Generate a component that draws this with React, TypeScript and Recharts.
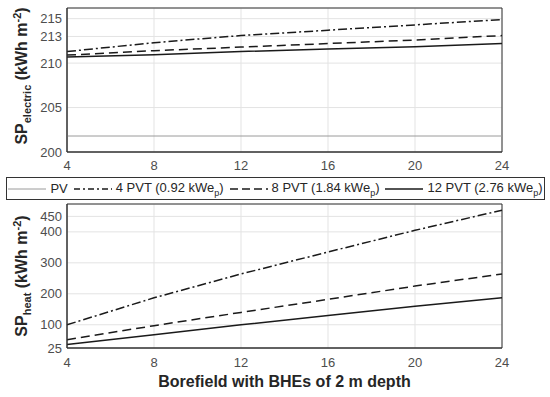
import React from "react";
import { LineChart, Line, XAxis, YAxis, CartesianGrid, ReferenceArea } from "recharts";

const boreholes = [4, 8, 12, 16, 20, 24];
const xTicks = [4, 8, 12, 16, 20, 24];

// SP electric (kWh m-2)
const pvElectric = [201.8, 201.8, 201.8, 201.8, 201.8, 201.8];
const pvt4Electric = [211.3, 212.3, 213.1, 213.7, 214.3, 214.9];
const pvt8Electric = [210.9, 211.4, 211.8, 212.2, 212.6, 213.1];
const pvt12Electric = [210.7, 210.95, 211.3, 211.6, 211.85, 212.2];
const electricTicks = [200, 205, 210, 213, 215];
const electricDomain = [200, 216.2];

// SP heat (kWh m-2)
const pvt4Heat = [100, 187, 264, 335, 405, 470];
const pvt8Heat = [52, 97, 140, 182, 225, 264];
const pvt12Heat = [36, 68, 100, 130, 160, 187];
const heatTicks = [25, 100, 200, 300, 400, 450];
const heatDomain = [25, 490];

const electricData = boreholes.map((b, i) => ({
  b,
  pv: pvElectric[i],
  pvt4: pvt4Electric[i],
  pvt8: pvt8Electric[i],
  pvt12: pvt12Electric[i],
}));

const heatData = boreholes.map((b, i) => ({
  b,
  pvt4: pvt4Heat[i],
  pvt8: pvt8Heat[i],
  pvt12: pvt12Heat[i],
}));

const FONT = "Arial, 'Liberation Sans', sans-serif";
const TEXT = "#262626";
const TICK = "#4d4d4d";
const BOX = "#333333";
const GRID = "#e3e3e3";
const LINE = "#1a1a1a";

const DASHDOT = "9 3 2 3";
const DASHED = "9 5";

const tickStyle = { fontSize: 13, fill: TICK, fontFamily: FONT };

// rotated y axis title, centred on (cx, cy) of the page
const YTitle = ({ sub, cx, cy }: { sub: string; cx: number; cy: number }) => (
  <div
    style={{
      position: "absolute",
      left: cx - 90,
      top: cy - 10,
      width: 180,
      height: 20,
      lineHeight: "20px",
      textAlign: "center",
      transform: "rotate(-90deg)",
      fontFamily: FONT,
      fontWeight: "bold",
      fontSize: 16,
      color: TEXT,
      whiteSpace: "nowrap",
    }}
  >
    SP<sub style={{ fontSize: 11, lineHeight: 0 }}>{sub}</sub> (kWh m
    <sup style={{ fontSize: 11, lineHeight: 0 }}>-2</sup>)
  </div>
);

const LegendSample = ({ dash, color, width }: { dash?: string; color: string; width: number }) => (
  <svg width={38} height={10} style={{ display: "block" }}>
    <line x1={0} y1={5} x2={38} y2={5} stroke={color} strokeWidth={width} strokeDasharray={dash} />
  </svg>
);

const legendItems = [
  { label: "PV", sub: "", color: "#9a9a9a", width: 1, dash: undefined },
  { label: "4 PVT (0.92 kWe", sub: "p", color: LINE, width: 1.5, dash: "6 3 2 3" },
  { label: "8 PVT (1.84 kWe", sub: "p", color: LINE, width: 1.5, dash: "8 4" },
  { label: "12 PVT (2.76 kWe", sub: "p", color: LINE, width: 1.5, dash: undefined },
];

export default function App() {
  return (
    <div
      style={{
        position: "absolute",
        left: 0,
        top: 0,
        width: 550,
        height: 397,
        background: "#fff",
        fontFamily: FONT,
      }}
    >
      {/* SP electric */}
      <div style={{ position: "absolute", left: 0, top: 0 }}>
        <LineChart width={550} height={180} data={electricData} margin={{ top: 8, right: 48, bottom: 0, left: 0 }}>
          <CartesianGrid stroke={GRID} />
          <ReferenceArea
            x1={4}
            x2={24}
            y1={electricDomain[0]}
            y2={electricDomain[1]}
            fill="none"
            stroke={BOX}
            strokeWidth={1}
            ifOverflow="visible"
          />
          <XAxis
            dataKey="b"
            type="number"
            domain={[4, 24]}
            ticks={xTicks}
            interval={0}
            height={28}
            tick={tickStyle}
            tickSize={0}
            tickMargin={9}
            axisLine={{ stroke: BOX }}
          />
          <YAxis
            type="number"
            domain={electricDomain}
            ticks={electricTicks}
            interval={0}
            width={67}
            tick={tickStyle}
            tickSize={0}
            tickMargin={5}
            axisLine={{ stroke: BOX }}
          />
          <Line dataKey="pv" stroke="#9a9a9a" strokeWidth={1} dot={false} isAnimationActive={false} />
          <Line dataKey="pvt4" stroke={LINE} strokeWidth={1.5} strokeDasharray={DASHDOT} dot={false} isAnimationActive={false} />
          <Line dataKey="pvt8" stroke={LINE} strokeWidth={1.5} strokeDasharray={DASHED} dot={false} isAnimationActive={false} />
          <Line dataKey="pvt12" stroke={LINE} strokeWidth={1.5} dot={false} isAnimationActive={false} />
        </LineChart>
      </div>

      {/* legend */}
      <div
        style={{
          position: "absolute",
          left: 6,
          top: 177,
          width: 539,
          height: 23,
          boxSizing: "border-box",
          border: `1px solid ${BOX}`,
          background: "#fff",
          display: "flex",
          alignItems: "center",
          justifyContent: "center",
          gap: 6,
          fontSize: 13,
          color: TEXT,
          whiteSpace: "nowrap",
        }}
      >
        {legendItems.map((it) => (
          <div key={it.label} style={{ display: "flex", alignItems: "center", gap: 4 }}>
            <LegendSample dash={it.dash} color={it.color} width={it.width} />
            <span>
              {it.label}
              {it.sub ? (
                <>
                  <sub style={{ fontSize: 9 }}>{it.sub}</sub>)
                </>
              ) : null}
            </span>
          </div>
        ))}
      </div>

      {/* SP heat */}
      <div style={{ position: "absolute", left: 0, top: 196 }}>
        <LineChart width={550} height={201} data={heatData} margin={{ top: 8, right: 48, bottom: 0, left: 0 }}>
          <CartesianGrid stroke={GRID} />
          <ReferenceArea
            x1={4}
            x2={24}
            y1={heatDomain[0]}
            y2={heatDomain[1]}
            fill="none"
            stroke={BOX}
            strokeWidth={1}
            ifOverflow="visible"
          />
          <XAxis
            dataKey="b"
            type="number"
            domain={[4, 24]}
            ticks={xTicks}
            interval={0}
            height={49}
            tick={tickStyle}
            tickSize={0}
            tickMargin={10}
            axisLine={{ stroke: BOX }}
          />
          <YAxis
            type="number"
            domain={heatDomain}
            ticks={heatTicks}
            interval={0}
            width={67}
            tick={tickStyle}
            tickSize={0}
            tickMargin={5}
            axisLine={{ stroke: BOX }}
          />
          <Line dataKey="pvt4" stroke={LINE} strokeWidth={1.5} strokeDasharray={DASHDOT} dot={false} isAnimationActive={false} />
          <Line dataKey="pvt8" stroke={LINE} strokeWidth={1.5} strokeDasharray={DASHED} dot={false} isAnimationActive={false} />
          <Line dataKey="pvt12" stroke={LINE} strokeWidth={1.5} dot={false} isAnimationActive={false} />
        </LineChart>
      </div>

      {/* axis titles */}
      <YTitle sub="electric" cx={22} cy={76} />
      <YTitle sub="heat" cx={22} cy={276} />
      <div
        style={{
          position: "absolute",
          left: 84.5,
          top: 372,
          width: 400,
          height: 20,
          lineHeight: "20px",
          textAlign: "center",
          fontFamily: FONT,
          fontWeight: "bold",
          fontSize: 16,
          color: TEXT,
          whiteSpace: "nowrap",
        }}
      >
        Borefield with BHEs of 2 m depth
      </div>
    </div>
  );
}
